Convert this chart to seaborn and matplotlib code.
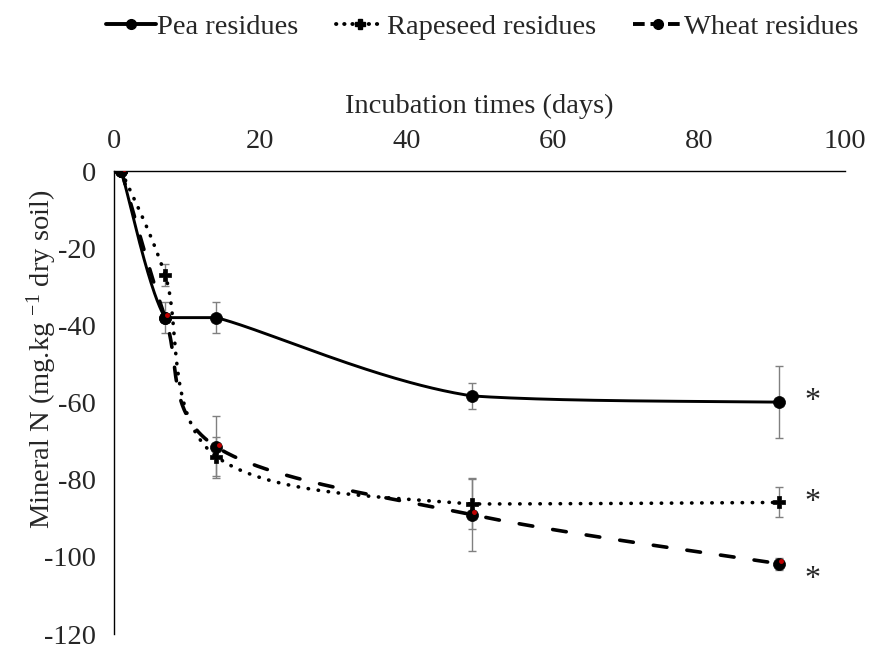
import numpy as np
import pandas as pd
import matplotlib
matplotlib.use("Agg")
import matplotlib.pyplot as plt
import seaborn as sns
from matplotlib.lines import Line2D

days = [1, 7, 14, 49, 91]
pea = [0, -38, -38, -58.3, -59.9]
pea_err = [0, 4, 4, 3.3, 9.4]
rapeseed = [0, -27, -74, -86.3, -85.9]
rapeseed_err = [0, 2.8, 5, 6.5, 3.9]
wheat = [0, -38, -71.5, -89.1, -101.8]
wheat_err = [0, 0, 8, 9.5, 1.5]
series_names = ["Pea residues", "Rapeseed residues", "Wheat residues"]

sns.set_theme(style="white")
plt.rcParams['font.family'] = ['Liberation Serif', 'DejaVu Serif']
plt.rcParams['mathtext.fontset'] = 'custom'
plt.rcParams['mathtext.rm'] = 'Liberation Serif'
plt.rcParams['mathtext.it'] = 'Liberation Serif'
plt.rcParams['axes.unicode_minus'] = False

FS = 20.5

fig = plt.figure(figsize=(8.69, 6.48), dpi=100)
ax = fig.add_axes([0.1312, 0.0216, 0.8412, 0.7145])
ax.set_xlim(0, 100)
ax.set_ylim(-120, 0)

SX, SY = 7.31, 3.87  # approx pixels per data unit


def smooth(xs, ys, n=80):
    """Excel-like smoothed line (Bezier, 1/6 tension, limited control length),
    control points kept inside each segment's vertical range."""
    P = np.column_stack([np.array(xs) * SX, np.array(ys) * SY])
    m = len(P)
    out = []
    for i in range(m - 1):
        p0 = P[i - 1] if i > 0 else P[i]
        p1, p2 = P[i], P[i + 1]
        p3 = P[i + 2] if i + 2 < m else P[i + 1]
        d02 = np.linalg.norm(p2 - p0)
        d12 = np.linalg.norm(p2 - p1)
        d13 = np.linalg.norm(p3 - p1)
        f0 = 1 / 6.0
        f1 = 1 / 6.0
        if d02 / 6.0 >= d12 / 2.0 and d02 > 0:
            f0 = d12 / d02 / 2.0
        if d13 / 6.0 >= d12 / 2.0 and d13 > 0:
            f1 = d12 / d13 / 2.0
        c1 = p1 + (p2 - p0) * f0
        c2 = p2 - (p3 - p1) * f1
        lo, hi = min(p1[1], p2[1]), max(p1[1], p2[1])
        c1[1] = np.clip(c1[1], lo, hi)
        c2[1] = np.clip(c2[1], lo, hi)
        t = np.linspace(0, 1, n)[:, None]
        seg = ((1 - t) ** 3) * p1 + 3 * ((1 - t) ** 2) * t * c1 + 3 * (1 - t) * t ** 2 * c2 + t ** 3 * p2
        out.append(seg if i == 0 else seg[1:])
    out = np.vstack(out)
    return out[:, 0] / SX, out[:, 1] / SY

grey = "#808080"
line_styles = ["-", (0, (0.1, 2.7)), (0, (3.8, 5.6))]
line_widths = [2.1, 2.6, 2.6]
vals = [pea, rapeseed, wheat]
errs = [pea_err, rapeseed_err, wheat_err]
markers = ["o", "P", "o"]

for k, (v, e) in enumerate(zip(vals, errs)):
    sx, sy = smooth(days, v)
    df = pd.DataFrame({"x": sx, "y": sy})
    ax.plot(df["x"], df["y"], color="black", linestyle=line_styles[k], lw=line_widths[k],
            solid_capstyle="round", dash_capstyle="round", solid_joinstyle="round", zorder=3 + k)
    ax.errorbar(days, v, yerr=e, fmt="none", ecolor=grey, elinewidth=1.0, capsize=3, capthick=1.0, zorder=2)
    pts = pd.DataFrame({"day": days, "val": v})
    sns.scatterplot(data=pts, x="day", y="val", marker=markers[k], s=75 if k != 1 else 65,
                    color="black", edgecolor="black", linewidth=0.5, ax=ax, zorder=4 + k, legend=False)
    if k == 2:
        ax.plot(np.array(days) + 0.3, np.array(v) + 0.6, linestyle="none", marker="o", ms=2.5,
                color="#c00000", zorder=8)

# significance asterisks
ax.text(95.6, pea[-1] + 0.2, "*", fontsize=23, ha="center", va="center")
ax.text(95.6, rapeseed[-1] + 0.0, "*", fontsize=23, ha="center", va="center")
ax.text(95.6, wheat[-1] - 4.0, "*", fontsize=23, ha="center", va="center")

ax.xaxis.tick_top()
ax.xaxis.set_label_position("top")
ax.set_xticks([0, 20, 40, 60, 80, 100])
ax.set_yticks([0, -20, -40, -60, -80, -100, -120])
ax.tick_params(axis="x", length=0, pad=12, labelsize=FS)
ax.tick_params(axis="y", length=0, pad=13, labelsize=FS)
ax.set_xlabel("Incubation times (days)", fontsize=FS, labelpad=12)
ax.set_ylabel("")
fig.text(0.048, 0.445, "Mineral N (mg.kg $^{-1}$ dry soil)", rotation=90, fontsize=FS,
         ha="center", va="center")

for s in ["right", "bottom"]:
    ax.spines[s].set_visible(False)
for s in ["left", "top"]:
    ax.spines[s].set_color("black")
    ax.spines[s].set_linewidth(1.0)
ax.grid(False)

handles = [
    Line2D([], [], color="black", ls="-", lw=2.8, marker="o", ms=7),
    Line2D([], [], color="black", ls=(0, (0.1, 2.0)), lw=2.8, marker="P", ms=7, dash_capstyle="round"),
    Line2D([], [], color="black", ls=(0, (3.0, 1.5)), lw=2.8, marker="o", ms=7),
]
fig.legend(handles, series_names, loc="center", bbox_to_anchor=(0.555, 0.958), ncol=3,
           frameon=False, fontsize=FS, handlelength=1.75, handletextpad=0.05, columnspacing=1.3)

fig.savefig("out.png", dpi=100)
